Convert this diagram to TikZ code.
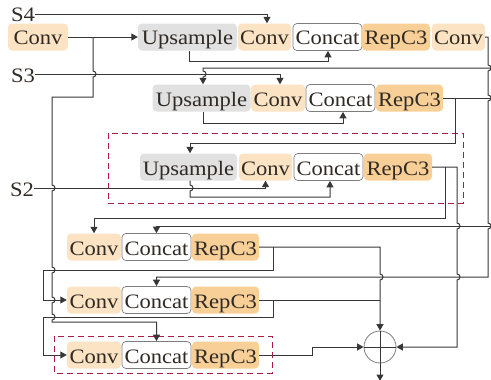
\documentclass[tikz,border=0pt]{standalone}
\usepackage{fontspec}
\setmainfont{Liberation Serif}[FakeStretch=1.1]
\usetikzlibrary{arrows.meta}
\definecolor{convc}{RGB}{251,227,196}
\definecolor{repc}{RGB}{248,207,150}
\definecolor{upc}{RGB}{225,225,225}
\definecolor{catb}{RGB}{125,125,125}
\definecolor{txt}{RGB}{48,42,36}
\definecolor{lc}{RGB}{55,55,55}
\definecolor{dashc}{RGB}{170,30,70}
\begin{document}
\begin{tikzpicture}[x=1pt,y=-1pt,
  blk/.style={rounded corners=4pt, inner sep=0pt, minimum height=27pt, text height=17pt, text depth=1pt, font=\fontsize{20.5}{24}\selectfont, text=txt},
  convb/.style={blk, fill=convc, minimum width=#1pt},
  repb/.style={blk, fill=repc, minimum width=#1pt},
  upb/.style={blk, fill=upc, minimum width=#1pt},
  catb/.style={blk, fill=white, draw=catb, line width=0.7pt, minimum width=#1pt},
  lab/.style={inner sep=0pt, text height=17pt, text depth=1pt, font=\fontsize{20.5}{24}\selectfont, text=txt},
  ln/.style={draw=lc, line width=1pt},
  arr/.style={ln, -{Triangle[length=6.5pt,width=7pt]}},
  dbox/.style={draw=dashc, line width=0.9pt, dash pattern=on 6pt off 4pt},
  hopat/.style 2 args={insert path={-- (#1,#2-3) .. controls (#1+4,#2-3) and (#1+4,#2+3) .. (#1,#2+3)}}
]
\useasboundingbox (0,0) rectangle (491,380);

% dashed groups
\draw[dbox] (108,133) rectangle (463,203);
\draw[dbox] (54,336) rectangle (272,373);

% labels
\node[lab] (s4) at (23,14) {S4};
\node[lab] (s3) at (23,74) {S3};
\node[lab] (s2) at (22,188) {S2};

% row 1
\node[convb=60] (conv0) at (38,37) {Conv};
\node[upb=99] (up1) at (187.5,37) {Upsample};
\node[convb=53] (conv1) at (264.5,37) {Conv};
\node[catb=69] (cat1) at (327.5,37) {Concat};
\node[repb=68] (rep1) at (396,37) {RepC3};
\node[convb=53] (conv1b) at (458.5,37) {Conv};
% row 2
\node[upb=98] (up2) at (201.5,98) {Upsample};
\node[convb=54] (conv2) at (278,98) {Conv};
\node[catb=69] (cat2) at (340.5,98) {Concat};
\node[repb=67] (rep2) at (409.5,98) {RepC3};
% row 3
\node[upb=97] (up3) at (188.5,167) {Upsample};
\node[convb=53] (conv3) at (265.5,167) {Conv};
\node[catb=69] (cat3) at (328.5,167) {Concat};
\node[repb=68] (rep3) at (398,167) {RepC3};
% rows 4-6
\node[convb=54] (conv4) at (94,247) {Conv};
\node[catb=69] (cat4) at (156.5,247) {Concat};
\node[repb=67] (rep4) at (225.5,247) {RepC3};
\node[convb=54] (conv5) at (94,300) {Conv};
\node[catb=69] (cat5) at (156.5,300) {Concat};
\node[repb=67] (rep5) at (225.5,300) {RepC3};
\node[convb=54] (conv6) at (94,355) {Conv};
\node[catb=69] (cat6) at (156.5,355) {Concat};
\node[repb=67] (rep6) at (225.5,355) {RepC3};

% sum node
\node[circle, draw=gray, line width=0.8pt, minimum size=32pt, inner sep=0pt] (sum) at (380,347) {};
\draw[ln] (sum.north) -- (sum.south);
\draw[ln] (sum.west) -- (sum.east);

% free-end coordinates
\coordinate (j0) at (93,37);
\coordinate (e68) at (491,68);
\coordinate (e98) at (491,98);
\coordinate (e226) at (491,226);
\coordinate (j2) at (455,98);
\coordinate (j3) at (445,167);
\coordinate (j4) at (273,247);
\coordinate (j5) at (273,300);

% top-down path
\draw[arr] (s4.east) -- (267,14) -- ([xshift=2.5pt]conv1.north);
\draw[arr] (conv0.east) -- (up1.west);
\draw[arr] (s3.east) -- (280,74) -- ([xshift=2pt]conv2.north);
\draw[arr] ([xshift=1.5pt]up1.south) -- (189,61) -- (328,61) -- ([xshift=0.5pt]cat1.south);
\draw[arr] (e68) -- (203,68) [hopat={203}{74}] -- ([xshift=1.5pt]up2.north);
\draw[arr] ([xshift=1.5pt]up2.south) -- (203,123) -- (343,123) -- ([xshift=2.5pt]cat2.south);
\draw[ln] (rep2.east) -- (e98);
\draw[arr] (j2) -- (455,143) -- (190,143) -- ([xshift=1.5pt]up3.north);
\draw[arr] (s2.east) -- (265.5,188) -- (conv3.south);
\draw[arr] ([xshift=1.5pt]up3.south) [hopat={190}{188}] -- (190,197) -- (330,197) -- ([xshift=1.5pt]cat3.south);

% long connectors
\draw[arr] (j0) [hopat={93}{74}] -- (93,97) -- (52,97) [hopat={52}{188}] [hopat={52}{270}] [hopat={52}{300}] [hopat={52}{317}] -- (52,322) -- (156.5,322) -- (cat6.north);
\draw[arr] (conv1b.east) -- (488,37) [hopat={488}{68}] [hopat={488}{98}] [hopat={488}{226}] -- (488,277) -- (156.5,277) -- (cat5.north);
\draw[arr] (rep3.east) -- (457,167) [hopat={457}{226}] [hopat={457}{277}] -- (457,347) -- (sum.east);
\draw[arr] (j3) -- (445,218) -- (94,218) -- (conv4.north);
\draw[arr] (e226) -- (156.5,226) -- (cat4.north);

% bottom-up path
\draw[arr] (rep4.east) -- (380,247) [hopat={380}{277}] -- (sum.north);
\draw[arr] (j4) -- (273,270) -- (43,270) -- (43,300) -- (conv5.west);
\draw[ln] (rep5.east) -- (380,300);
\draw[arr] (j5) -- (273,317) -- (43,317) -- (43,355) -- (conv6.west);
\draw[arr] (rep6.east) -- (312,355) -- (312,347) -- (sum.west);
\draw[arr] (sum.south) -- (380,381);
\end{tikzpicture}
\end{document}
